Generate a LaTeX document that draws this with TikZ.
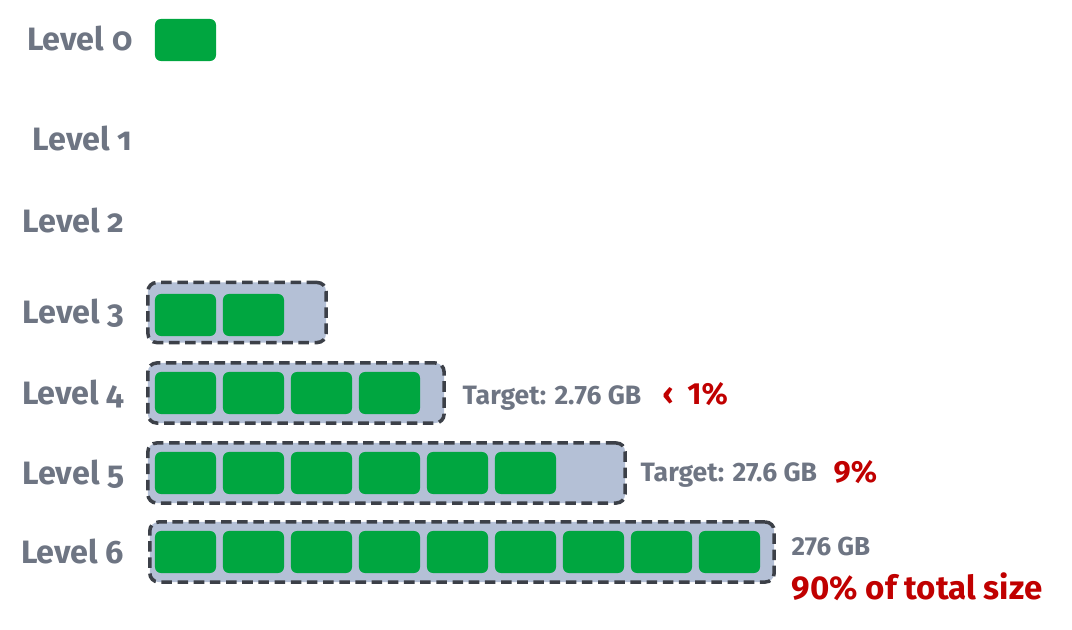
\documentclass[tikz,border=0pt]{standalone}
\usepackage{fontspec}
\setmainfont{Fira Sans}
\newfontfamily\lvlfont{Fira Sans}[Numbers=OldStyle]
\usepackage{xcolor}
\definecolor{lvlgray}{HTML}{6E7583}
\definecolor{blockgreen}{HTML}{00A640}
\definecolor{tierfill}{HTML}{B4C0D6}
\definecolor{tierline}{HTML}{3C4048}
\definecolor{pctred}{HTML}{C00000}

\tikzset{
  lvl/.style={anchor=base east,inner sep=0pt,text=lvlgray,font=\lvlfont\bfseries\fontsize{9.2}{10}\selectfont},
  block/.style={rounded corners=1.7pt,fill=blockgreen,minimum width=0.61cm,minimum height=0.42cm,inner sep=0pt},
  tier/.style={draw=tierline,line width=1pt,dash pattern=on 3pt off 1.6pt,rounded corners=2.5pt,fill=tierfill,inner sep=0pt,minimum height=0.6cm},
  note/.style={anchor=base west,inner sep=0pt,text=lvlgray,font=\bfseries\fontsize{7.55}{9}\selectfont},
  pct/.style={anchor=base west,inner sep=0pt,text=pctred,font=\bfseries\fontsize{8.7}{10}\selectfont}
}

\begin{document}
\begin{tikzpicture}[x=0.01cm,y=-0.01cm]
\useasboundingbox (0,0) rectangle (1072,630);

% level labels
\node[lvl] (l0) at (133,50) {Level 0};
\node[lvl] (l1) at (133,150) {Level 1};
\node[lvl] (l2) at (125,232) {Level 2};
\node[lvl] (l3) at (125,323) {Level 3};
\node[lvl] (l4) at (125,404) {Level 4};
\node[lvl] (l5) at (125,484) {Level 5};
\node[lvl] (l6) at (125,563) {Level 6};

% level 0
\node[block] (b0) at (185.5,40) {};

% containers
\node[tier,minimum width=1.78cm] (t3) at (237,312.5) {};
\node[tier,minimum width=2.96cm] (t4) at (296,393) {};
\node[tier,minimum width=4.77cm] (t5) at (386.5,473) {};
\node[tier,minimum width=6.24cm] (t6) at (462,552) {};

% files
\foreach \i in {0,1}
  \node[block] (b3\i) at (185.5+68*\i,315) {};
\foreach \i in {0,...,3}
  \node[block] (b4\i) at (185.5+68*\i,393) {};
\foreach \i in {0,...,5}
  \node[block] (b5\i) at (185.5+68*\i,473) {};
\foreach \i in {0,...,8}
  \node[block] (b6\i) at (185.5+68*\i,552) {};

% sizes
\node[note] (n4) at (462,404) {Target: 2.76 GB};
\node[pct] (p4) at (662,404) {‹\hspace{0.45em}1\%};
\node[note] (n5) at (640,481) {Target: 27.6 GB};
\node[pct] (p5) at (833,482) {9\%};
\node[note,font=\bfseries\fontsize{7.4}{8}\selectfont] (n6) at (791,555) {276 GB};
\node[pct,font=\bfseries\fontsize{9.4}{11}\selectfont] (p6) at (791,599) {90\% of total size};
\end{tikzpicture}
\end{document}
